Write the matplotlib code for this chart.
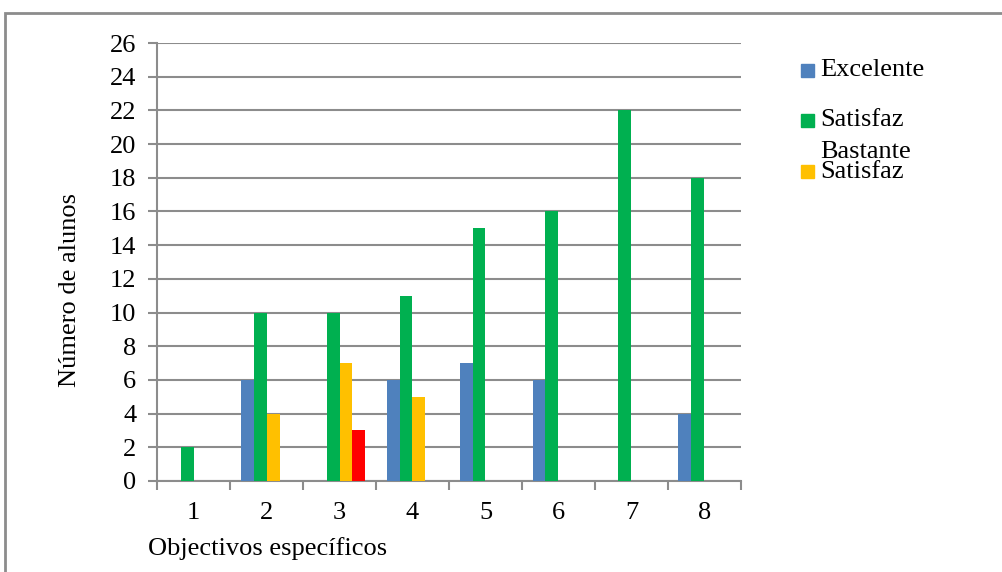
import numpy as np
import matplotlib.pyplot as plt
from matplotlib.patches import Rectangle

# Number of students per objective and grade
objectives = ["1", "2", "3", "4", "5", "6", "7", "8"]
excelente = [0, 6, 0, 6, 7, 6, 0, 4]
satisfaz_bastante = [2, 10, 10, 11, 15, 16, 22, 18]
satisfaz = [0, 4, 7, 5, 0, 0, 0, 0]
nao_satisfaz = [0, 0, 3, 0, 0, 0, 0, 0]

series = [excelente, satisfaz_bastante, satisfaz, nao_satisfaz]
colors = ["#4F81BD", "#00B050", "#FFC000", "#FF0000"]
legend_labels = ["Excelente", "Satisfaz\nBastante", "Satisfaz"]

plt.rcParams["font.family"] = ["Liberation Serif", "DejaVu Serif"]
grid_gray = "#8C8C8C"
fs = 19

fig = plt.figure(figsize=(10.02, 5.72), dpi=100)
ax = fig.add_axes([0.1567, 0.1591, 0.5828, 0.7657])

x = np.arange(len(objectives))
width = 0.178
for i, (vals, c) in enumerate(zip(series, colors)):
    offs = (i - 1.5) * width
    ax.bar(x + offs, vals, width, color=c, zorder=3)

ax.set_xlim(-0.5, len(objectives) - 0.5)
ax.set_ylim(0, 26)
ax.set_yticks(range(0, 27, 2))
ax.yaxis.grid(True, color=grid_gray, linewidth=1.5, zorder=0)

# tick marks sit between categories, labels at category centres
ax.set_xticks(np.arange(-0.5, len(objectives)), minor=False)
ax.set_xticklabels([])
ax.set_xticks(x, minor=True)
ax.set_xticklabels(objectives, minor=True)
ax.tick_params(axis="x", which="major", length=6.5, width=1.5, color=grid_gray, direction="out")
ax.tick_params(axis="x", which="minor", length=0, pad=15, labelsize=fs)
ax.tick_params(axis="y", length=6.5, width=1.5, color=grid_gray, direction="out", pad=8.5, labelsize=fs)

for s in ["top", "right"]:
    ax.spines[s].set_visible(False)
for s in ["left", "bottom"]:
    ax.spines[s].set_color(grid_gray)
    ax.spines[s].set_linewidth(1.5)

fig.text(0.070, 0.493, "Número de alunos", rotation=90, ha="center", va="center", fontsize=fs)
fig.text(0.148, 1 - 549 / 572, "Objectivos específicos", ha="left", va="center", fontsize=fs)

# legend
leg_y = [70, 120, 172]
for lab, c, yy in zip(legend_labels, colors, leg_y):
    fy = 1 - yy / 572
    fig.patches.append(Rectangle((801 / 1002, fy - 6.5 / 572), 13 / 1002, 13 / 572,
                                 transform=fig.transFigure, color=c))
    if "\n" in lab:
        first, second = lab.split("\n")
        fig.text(820 / 1002, fy, first, ha="left", va="center", fontsize=fs)
        fig.text(820 / 1002, 1 - 152 / 572, second, ha="left", va="center", fontsize=fs)
    else:
        fig.text(820 / 1002, fy, lab, ha="left", va="center", fontsize=fs)

# outer chart frame
fig.patches.append(Rectangle((5 / 1002, -0.1), 1.2, 1 - 13 / 572 + 0.1,
                             transform=fig.transFigure, fill=False,
                             edgecolor=grid_gray, linewidth=2))

fig.savefig("out.png", dpi=100)
